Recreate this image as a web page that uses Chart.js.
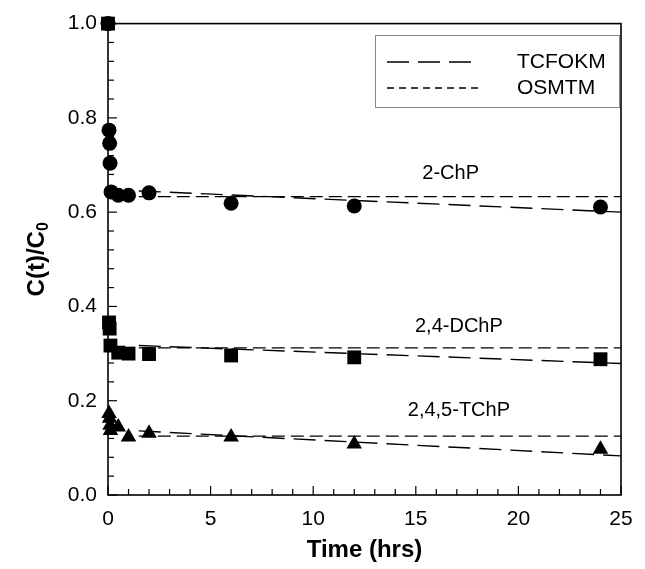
<!DOCTYPE html>
<html>
<head>
<meta charset="utf-8">
<script src="https://cdn.jsdelivr.net/npm/chart.js@4/dist/chart.umd.min.js"></script>
<style>
html,body{margin:0;padding:0;background:#fff;}
#wrap{width:645px;height:569px;position:relative;}
</style>
</head>
<body>
<div id="wrap"><canvas id="c" width="645" height="569"></canvas></div>
<script>
// ---- data ----
const chpTime  = [0, 0.05, 0.08, 0.1, 0.15, 0.5, 1, 2, 6, 12, 24];
const chpConc  = [1.0, 0.774, 0.746, 0.704, 0.643, 0.636, 0.636, 0.641, 0.619, 0.613, 0.611];
const dchpTime = [0, 0.05, 0.08, 0.12, 0.5, 1, 2, 6, 12, 24];
const dchpConc = [1.0, 0.366, 0.353, 0.317, 0.302, 0.300, 0.299, 0.296, 0.292, 0.288];
const tchpTime = [0.05, 0.08, 0.1, 0.12, 0.5, 1, 2, 6, 12, 24];
const tchpConc = [0.173, 0.163, 0.148, 0.137, 0.144, 0.123, 0.131, 0.123, 0.108, 0.097];

const fitTime = [1.5, 25];
const chpTCFOKM  = [0.645, 0.600];
const chpOSMTM   = [0.633, 0.633];
const dchpTCFOKM = [0.317, 0.279];
const dchpOSMTM  = [0.312, 0.312];
const tchpTCFOKM = [0.136, 0.083];
const tchpOSMTM  = [0.125, 0.125];

const seriesLabels = ['2-ChP', '2,4-DChP', '2,4,5-TChP'];
const labelTime = [16.7, 17.1, 17.1];
const labelConc = [0.683, 0.357, 0.180];
const legendLabels = ['TCFOKM', 'OSMTM'];

const xTicksMajor = [0, 5, 10, 15, 20, 25];
const yTicksMajor = [0.0, 0.2, 0.4, 0.6, 0.8, 1.0];

const pts = (t, v) => t.map((x, i) => ({x: x, y: v[i]}));
const LONG = [22, 9];
const SHORT = [13, 6];
const FONT = '"Liberation Sans", Arial, sans-serif';

function lineDs(t, v, dash) {
  return {data: pts(t, v), showLine: true, borderColor: '#000', borderWidth: 1.4,
          borderDash: dash, pointRadius: 0, fill: false, order: 2};
}
function markDs(t, v, style, r) {
  return {data: pts(t, v), showLine: false, pointStyle: style, pointRadius: r,
          backgroundColor: '#000', borderColor: '#000', borderWidth: 0, order: 1, clip: false};
}

const decor = {
  id: 'decor',
  beforeDatasetsDraw(chart) {
    const ctx = chart.ctx, a = chart.chartArea;
    const xs = chart.scales.x, ys = chart.scales.y;
    ctx.save();
    ctx.strokeStyle = '#000';
    ctx.lineWidth = 1.6;
    ctx.strokeRect(a.left, a.top, a.right - a.left, a.bottom - a.top);
    ctx.lineWidth = 1.2;
    xs.ticks.forEach(t => {
      const px = xs.getPixelForValue(t.value);
      const major = xTicksMajor.some(m => Math.abs(m - t.value) < 1e-6);
      const len = major ? 9 : 6;
      ctx.beginPath(); ctx.moveTo(px, a.bottom); ctx.lineTo(px, a.bottom - len); ctx.stroke();
    });
    ys.ticks.forEach(t => {
      const py = ys.getPixelForValue(t.value);
      const major = yTicksMajor.some(m => Math.abs(m - t.value) < 1e-6);
      const len = major ? 9 : 6;
      ctx.beginPath(); ctx.moveTo(a.left, py); ctx.lineTo(a.left + len, py); ctx.stroke();
    });
    ctx.restore();
  },
  afterDraw(chart) {
    const ctx = chart.ctx, a = chart.chartArea;
    const xs = chart.scales.x, ys = chart.scales.y;
    ctx.save();
    ctx.fillStyle = '#000';
    ctx.font = '20px ' + FONT;
    ctx.textAlign = 'center';
    ctx.textBaseline = 'middle';
    seriesLabels.forEach((s, i) => {
      ctx.fillText(s, xs.getPixelForValue(labelTime[i]), ys.getPixelForValue(labelConc[i]));
    });
    // legend box
    const lx = 375, ly = 35, lw = 244, lh = 72;
    ctx.strokeStyle = '#888';
    ctx.lineWidth = 1;
    ctx.strokeRect(lx + 0.5, ly + 0.5, lw, lh);
    const dashes = [LONG, [7, 5]];
    legendLabels.forEach((s, i) => {
      const yy = ly + 27 + i * 26;
      ctx.strokeStyle = '#000';
      ctx.lineWidth = 1.4;
      ctx.setLineDash(dashes[i]);
      ctx.beginPath(); ctx.moveTo(lx + 12, yy); ctx.lineTo(lx + 104, yy); ctx.stroke();
      ctx.setLineDash([]);
      ctx.textAlign = 'left';
      ctx.font = '21px ' + FONT;
      ctx.fillText(s, lx + 142, yy);
    });
    // axis titles
    ctx.font = 'bold 24px ' + FONT;
    ctx.textAlign = 'center';
    ctx.fillText('Time (hrs)', (a.left + a.right) / 2, 550);
    ctx.translate(37, (a.top + a.bottom) / 2);
    ctx.rotate(-Math.PI / 2);
    const main = 'C(t)/C';
    const w1 = ctx.measureText(main).width;
    ctx.font = 'bold 16px ' + FONT;
    const w2 = ctx.measureText('0').width;
    const start = -(w1 + w2) / 2;
    ctx.textAlign = 'left';
    ctx.font = 'bold 24px ' + FONT;
    ctx.fillText(main, start, 0);
    ctx.font = 'bold 16px ' + FONT;
    ctx.fillText('0', start + w1, 7);
    ctx.restore();
  }
};

new Chart(document.getElementById('c'), {
  type: 'scatter',
  data: {
    datasets: [
      lineDs(fitTime, chpTCFOKM, LONG),
      lineDs(fitTime, chpOSMTM, SHORT),
      lineDs(fitTime, dchpTCFOKM, LONG),
      lineDs(fitTime, dchpOSMTM, SHORT),
      lineDs(fitTime, tchpTCFOKM, LONG),
      lineDs(fitTime, tchpOSMTM, SHORT),
      markDs(chpTime, chpConc, 'circle', 7.5),
      markDs(dchpTime, dchpConc, 'rect', 9.8),
      markDs(tchpTime, tchpConc, 'triangle', 9)
    ]
  },
  options: {
    responsive: false,
    animation: false,
    events: [],
    layout: {padding: {left: 0, right: 24, top: 22, bottom: 0}},
    plugins: {legend: {display: false}, tooltip: {enabled: false}},
    scales: {
      x: {
        type: 'linear', min: 0, max: 25,
        grid: {display: false, drawTicks: false},
        border: {display: false},
        ticks: {
          stepSize: 1, autoSkip: false, maxRotation: 0, padding: 12,
          color: '#000', font: {family: FONT, size: 21},
          callback: v => (Math.abs(v / 5 - Math.round(v / 5)) < 1e-6 ? String(Math.round(v)) : '')
        },
        afterFit: s => { s.height = 74; }
      },
      y: {
        type: 'linear', min: 0, max: 1,
        grid: {display: false, drawTicks: false},
        border: {display: false},
        ticks: {
          stepSize: 0.04, autoSkip: false, padding: 11,
          color: '#000', font: {family: FONT, size: 21},
          callback: v => (Math.abs(v * 5 - Math.round(v * 5)) < 1e-6 ? v.toFixed(1) : '')
        },
        afterFit: s => { s.width = 108; }
      }
    }
  },
  plugins: [decor]
});
</script>
</body>
</html>
